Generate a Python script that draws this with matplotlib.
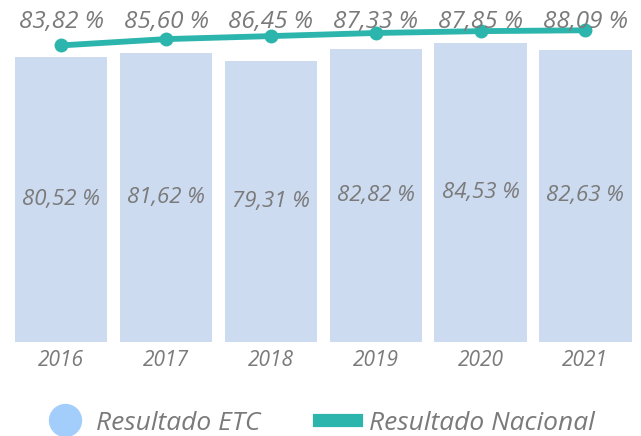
import matplotlib.pyplot as plt
from matplotlib.lines import Line2D
from matplotlib import transforms

anos = ['2016', '2017', '2018', '2019', '2020', '2021']
etc = [80.52, 81.62, 79.31, 82.82, 84.53, 82.63]
nacional = [83.82, 85.60, 86.45, 87.33, 87.85, 88.09]

cor_barra = '#cddbf0'
cor_linha = '#2bb5ad'
cor_texto = '#7a7a7a'
fonte = 'Open Sans'

def fmt(v):
    return f'{v:.2f}'.replace('.', ',') + ' %'

fig = plt.figure(figsize=(6.41, 4.36), dpi=100)
ax = fig.add_axes([0.014, 0.2156, 0.981, 0.784])

x = list(range(len(anos)))
barras = ax.bar(x, etc, width=0.88, color=cor_barra, zorder=1)
ax.plot(x, nacional, color=cor_linha, linewidth=4.2, marker='o',
        markersize=9, zorder=3, solid_capstyle='round')

# rótulos das barras no meio
for xi, v in zip(x, etc):
    ax.text(xi, v / 2, fmt(v), ha='center', va='center', fontsize=16,
            style='italic', color=cor_texto, family=fonte)

# rótulos da linha, no topo
trans = transforms.blended_transform_factory(ax.transData, fig.transFigure)
for xi, v in zip(x, nacional):
    ax.text(xi, 1 - 22 / 436, fmt(v), ha='center', va='center', fontsize=17.5,
            style='italic', color=cor_texto, family=fonte, transform=trans,
            zorder=4)

ax.set_xlim(-0.5, len(anos) - 0.5)
ax.set_ylim(0, 96.6)
ax.set_yticks([])
ax.set_xticks(x)
ax.set_xticklabels(anos, fontsize=15, style='italic', color=cor_texto,
                   family=fonte)
ax.tick_params(axis='x', length=0, pad=6)
for s in ax.spines.values():
    s.set_visible(False)

handles = [
    Line2D([], [], linestyle='none', marker='o', markersize=24,
           markerfacecolor='#a3cdfa', markeredgecolor='none'),
    Line2D([], [], color=cor_linha, linewidth=9.5),
]
fig.legend(handles, ['Resultado ETC', 'Resultado Nacional'], loc='center',
           bbox_to_anchor=(0.5, 1 - 423 / 436), ncol=2, frameon=False,
           prop={'family': fonte, 'style': 'italic', 'size': 19},
           labelcolor=cor_texto, handlelength=1.4, columnspacing=2.2,
           handletextpad=0.5)

fig.savefig('out.png', dpi=100)
